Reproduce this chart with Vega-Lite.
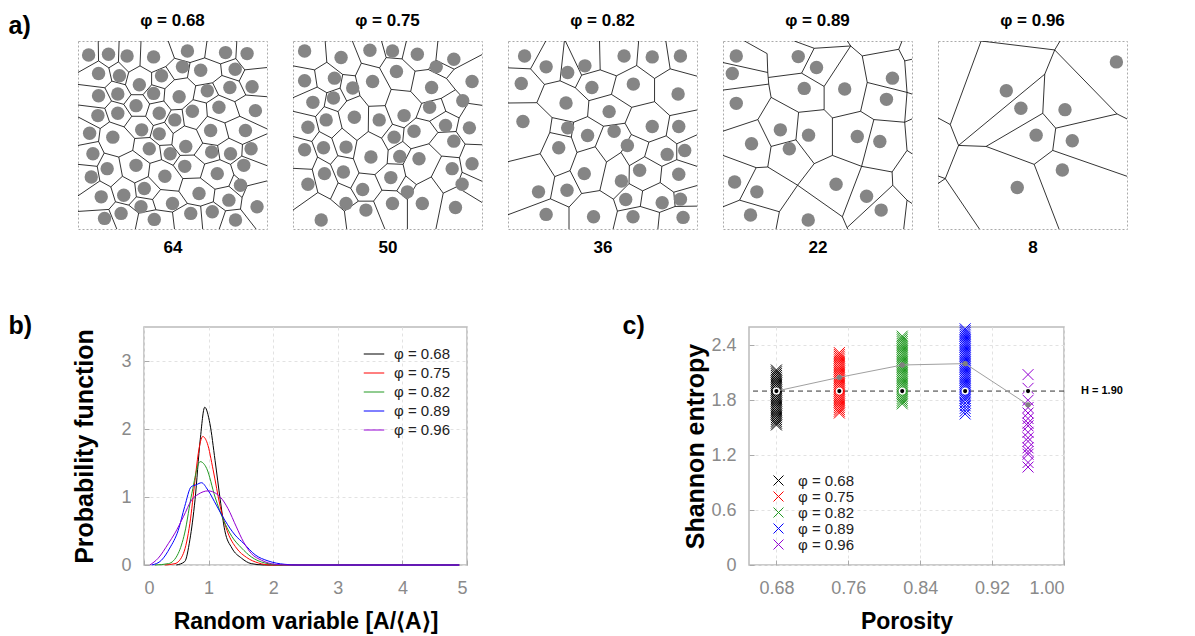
{
 "$schema": "https://vega.github.io/schema/vega-lite/v6.json",
 "padding": {"left": 8, "top": 11, "right": 5, "bottom": 0},
 "background": "white",
 "config": {
  "font": "Liberation Sans",
  "view": {"stroke": null},
  "title": {"font": "Liberation Sans", "color": "black"},
  "axis": {"labelFont": "Liberation Sans", "titleFont": "Liberation Sans"},
  "legend": {"labelFont": "Liberation Sans"}
 },
 "datasets": {
  "pts": [
   {"p":"0.68","x":32,"y":42},{"p":"0.68","x":92,"y":40},{"p":"0.68","x":148,"y":45},{"p":"0.68","x":228,"y":48},{"p":"0.68","x":330,"y":30},{"p":"0.68","x":445,"y":35},{"p":"0.68","x":510,"y":38},
   {"p":"0.68","x":62,"y":98},{"p":"0.68","x":125,"y":105},{"p":"0.68","x":252,"y":105},{"p":"0.68","x":315,"y":78},{"p":"0.68","x":370,"y":88},{"p":"0.68","x":474,"y":85},
   {"p":"0.68","x":185,"y":132},{"p":"0.68","x":62,"y":165},{"p":"0.68","x":120,"y":160},{"p":"0.68","x":228,"y":158},{"p":"0.68","x":305,"y":168},{"p":"0.68","x":390,"y":150},{"p":"0.68","x":458,"y":140},{"p":"0.68","x":525,"y":138},
   {"p":"0.68","x":175,"y":195},{"p":"0.68","x":60,"y":225},{"p":"0.68","x":120,"y":218},{"p":"0.68","x":245,"y":218},{"p":"0.68","x":292,"y":238},{"p":"0.68","x":345,"y":212},{"p":"0.68","x":425,"y":200},{"p":"0.68","x":535,"y":210},
   {"p":"0.68","x":35,"y":278},{"p":"0.68","x":105,"y":290},{"p":"0.68","x":192,"y":268},{"p":"0.68","x":245,"y":280},{"p":"0.68","x":400,"y":270},{"p":"0.68","x":505,"y":270},
   {"p":"0.68","x":45,"y":340},{"p":"0.68","x":215,"y":325},{"p":"0.68","x":278,"y":340},{"p":"0.68","x":325,"y":318},{"p":"0.68","x":403,"y":335},{"p":"0.68","x":460,"y":340},{"p":"0.68","x":522,"y":325},
   {"p":"0.68","x":88,"y":385},{"p":"0.68","x":175,"y":375},{"p":"0.68","x":322,"y":378},{"p":"0.68","x":420,"y":400},{"p":"0.68","x":500,"y":375},
   {"p":"0.68","x":40,"y":410},{"p":"0.68","x":262,"y":408},{"p":"0.68","x":200,"y":445},{"p":"0.68","x":365,"y":460},{"p":"0.68","x":490,"y":435},
   {"p":"0.68","x":70,"y":470},{"p":"0.68","x":138,"y":465},{"p":"0.68","x":285,"y":490},{"p":"0.68","x":455,"y":480},{"p":"0.68","x":540,"y":500},
   {"p":"0.68","x":80,"y":535},{"p":"0.68","x":130,"y":520},{"p":"0.68","x":190,"y":500},{"p":"0.68","x":230,"y":538},{"p":"0.68","x":340,"y":520},{"p":"0.68","x":405,"y":515},{"p":"0.68","x":475,"y":540},
   {"p":"0.75","x":35,"y":30},{"p":"0.75","x":145,"y":50},{"p":"0.75","x":232,"y":28},{"p":"0.75","x":300,"y":30},{"p":"0.75","x":375,"y":40},{"p":"0.75","x":485,"y":55},
   {"p":"0.75","x":312,"y":92},{"p":"0.75","x":432,"y":78},{"p":"0.75","x":35,"y":120},{"p":"0.75","x":125,"y":112},{"p":"0.75","x":180,"y":142},{"p":"0.75","x":240,"y":122},{"p":"0.75","x":418,"y":140},{"p":"0.75","x":540,"y":122},
   {"p":"0.75","x":60,"y":185},{"p":"0.75","x":122,"y":172},{"p":"0.75","x":412,"y":200},{"p":"0.75","x":512,"y":180},{"p":"0.75","x":100,"y":238},{"p":"0.75","x":45,"y":260},{"p":"0.75","x":185,"y":230},{"p":"0.75","x":260,"y":238},{"p":"0.75","x":335,"y":225},{"p":"0.75","x":460,"y":255},{"p":"0.75","x":532,"y":262},
   {"p":"0.75","x":365,"y":272},{"p":"0.75","x":305,"y":290},{"p":"0.75","x":485,"y":302},{"p":"0.75","x":35,"y":328},{"p":"0.75","x":92,"y":322},{"p":"0.75","x":160,"y":320},{"p":"0.75","x":235,"y":350},{"p":"0.75","x":322,"y":348},{"p":"0.75","x":380,"y":355},{"p":"0.75","x":540,"y":370},
   {"p":"0.75","x":95,"y":400},{"p":"0.75","x":152,"y":395},{"p":"0.75","x":45,"y":432},{"p":"0.75","x":295,"y":412},{"p":"0.75","x":480,"y":385},{"p":"0.75","x":510,"y":432},{"p":"0.75","x":210,"y":448},{"p":"0.75","x":345,"y":455},
   {"p":"0.75","x":160,"y":490},{"p":"0.75","x":220,"y":510},{"p":"0.75","x":300,"y":490},{"p":"0.75","x":390,"y":490},{"p":"0.75","x":490,"y":502},{"p":"0.75","x":85,"y":540},
   {"p":"0.82","x":50,"y":45},{"p":"0.82","x":115,"y":78},{"p":"0.82","x":180,"y":95},{"p":"0.82","x":232,"y":75},{"p":"0.82","x":350,"y":45},{"p":"0.82","x":435,"y":48},{"p":"0.82","x":520,"y":45},
   {"p":"0.82","x":40,"y":128},{"p":"0.82","x":253,"y":140},{"p":"0.82","x":378,"y":130},{"p":"0.82","x":513,"y":160},{"p":"0.82","x":175,"y":187},{"p":"0.82","x":305,"y":213},{"p":"0.82","x":45,"y":243},
   {"p":"0.82","x":180,"y":262},{"p":"0.82","x":240,"y":285},{"p":"0.82","x":320,"y":272},{"p":"0.82","x":435,"y":258},{"p":"0.82","x":515,"y":258},{"p":"0.82","x":153,"y":322},{"p":"0.82","x":360,"y":315},
   {"p":"0.82","x":480,"y":342},{"p":"0.82","x":533,"y":330},{"p":"0.82","x":397,"y":390},{"p":"0.82","x":230,"y":400},{"p":"0.82","x":515,"y":402},{"p":"0.82","x":342,"y":422},{"p":"0.82","x":92,"y":455},
   {"p":"0.82","x":178,"y":450},{"p":"0.82","x":355,"y":478},{"p":"0.82","x":465,"y":488},{"p":"0.82","x":520,"y":477},{"p":"0.82","x":115,"y":523},{"p":"0.82","x":258,"y":530},{"p":"0.82","x":377,"y":530},{"p":"0.82","x":528,"y":532},
   {"p":"0.89","x":40,"y":45},{"p":"0.89","x":28,"y":98},{"p":"0.89","x":227,"y":47},{"p":"0.89","x":282,"y":80},{"p":"0.89","x":245,"y":143},{"p":"0.89","x":367,"y":145},{"p":"0.89","x":511,"y":112},{"p":"0.89","x":493,"y":176},
   {"p":"0.89","x":40,"y":188},{"p":"0.89","x":173,"y":268},{"p":"0.89","x":258,"y":284},{"p":"0.89","x":200,"y":325},{"p":"0.89","x":86,"y":310},{"p":"0.89","x":405,"y":288},{"p":"0.89","x":473,"y":303},
   {"p":"0.89","x":35,"y":425},{"p":"0.89","x":102,"y":455},{"p":"0.89","x":341,"y":432},{"p":"0.89","x":433,"y":468},{"p":"0.89","x":477,"y":510},{"p":"0.89","x":83,"y":525},{"p":"0.89","x":257,"y":540},
   {"p":"0.96","x":538,"y":63},{"p":"0.96","x":206,"y":150},{"p":"0.96","x":250,"y":203},{"p":"0.96","x":383,"y":207},{"p":"0.96","x":296,"y":284},{"p":"0.96","x":405,"y":301},{"p":"0.96","x":375,"y":389},{"p":"0.96","x":239,"y":442}
  ],
  "edges": [
   {"p":"0.68","x":62,"y":60,"x2":93,"y2":81},{"p":"0.68","x":122,"y":63,"x2":93,"y2":81},{"p":"0.68","x":122,"y":63,"x2":153,"y2":94},{"p":"0.68","x":93,"y":81,"x2":102,"y2":121},{"p":"0.68","x":153,"y":94,"x2":187,"y2":75},
   {"p":"0.68","x":153,"y":94,"x2":143,"y2":132},{"p":"0.68","x":187,"y":75,"x2":222,"y2":95},{"p":"0.68","x":222,"y":95,"x2":265,"y2":77},{"p":"0.68","x":222,"y":95,"x2":222,"y2":132},{"p":"0.68","x":291,"y":52,"x2":265,"y2":77},
   {"p":"0.68","x":291,"y":52,"x2":338,"y2":65},{"p":"0.68","x":265,"y":77,"x2":291,"y2":117},{"p":"0.68","x":382,"y":51,"x2":338,"y2":65},{"p":"0.68","x":382,"y":51,"x2":430,"y2":69},{"p":"0.68","x":338,"y":65,"x2":330,"y2":111},
   {"p":"0.68","x":476,"y":53,"x2":430,"y2":69},{"p":"0.68","x":476,"y":53,"x2":503,"y2":87},{"p":"0.68","x":430,"y":69,"x2":434,"y2":104},{"p":"0.68","x":503,"y":87,"x2":486,"y2":121},{"p":"0.68","x":102,"y":121,"x2":143,"y2":132},
   {"p":"0.68","x":102,"y":121,"x2":81,"y2":141},{"p":"0.68","x":81,"y":141,"x2":101,"y2":181},{"p":"0.68","x":143,"y":132,"x2":160,"y2":162},{"p":"0.68","x":196,"y":162,"x2":222,"y2":132},{"p":"0.68","x":196,"y":162,"x2":160,"y2":162},
   {"p":"0.68","x":196,"y":162,"x2":216,"y2":190},{"p":"0.68","x":160,"y":162,"x2":138,"y2":191},{"p":"0.68","x":222,"y":132,"x2":262,"y2":144},{"p":"0.68","x":291,"y":117,"x2":262,"y2":144},{"p":"0.68","x":291,"y":117,"x2":330,"y2":111},
   {"p":"0.68","x":262,"y":144,"x2":259,"y2":181},{"p":"0.68","x":330,"y":111,"x2":355,"y2":135},{"p":"0.68","x":355,"y":135,"x2":406,"y2":126},{"p":"0.68","x":355,"y":135,"x2":347,"y2":177},{"p":"0.68","x":434,"y":104,"x2":406,"y2":126},
   {"p":"0.68","x":434,"y":104,"x2":486,"y2":121},{"p":"0.68","x":406,"y":126,"x2":424,"y2":163},{"p":"0.68","x":486,"y":121,"x2":506,"y2":163},{"p":"0.68","x":101,"y":181,"x2":138,"y2":191},{"p":"0.68","x":101,"y":181,"x2":81,"y2":203},
   {"p":"0.68","x":81,"y":203,"x2":95,"y2":244},{"p":"0.68","x":138,"y":191,"x2":162,"y2":227},{"p":"0.68","x":216,"y":190,"x2":259,"y2":181},{"p":"0.68","x":216,"y":190,"x2":204,"y2":227},{"p":"0.68","x":259,"y":181,"x2":281,"y2":208},
   {"p":"0.68","x":281,"y":208,"x2":314,"y2":206},{"p":"0.68","x":281,"y":208,"x2":261,"y2":245},{"p":"0.68","x":314,"y":206,"x2":347,"y2":177},{"p":"0.68","x":314,"y":206,"x2":321,"y2":256},{"p":"0.68","x":347,"y":177,"x2":387,"y2":187},
   {"p":"0.68","x":387,"y":187,"x2":424,"y2":163},{"p":"0.68","x":387,"y":187,"x2":390,"y2":227},{"p":"0.68","x":424,"y":163,"x2":473,"y2":183},{"p":"0.68","x":506,"y":163,"x2":473,"y2":183},{"p":"0.68","x":473,"y":183,"x2":488,"y2":227},
   {"p":"0.68","x":95,"y":244,"x2":139,"y2":259},{"p":"0.68","x":95,"y":244,"x2":67,"y2":264},{"p":"0.68","x":67,"y":264,"x2":62,"y2":303},{"p":"0.68","x":162,"y":227,"x2":204,"y2":227},{"p":"0.68","x":162,"y":227,"x2":139,"y2":259},
   {"p":"0.68","x":139,"y":259,"x2":171,"y2":294},{"p":"0.68","x":204,"y":227,"x2":227,"y2":255},{"p":"0.68","x":227,"y":255,"x2":261,"y2":245},{"p":"0.68","x":227,"y":255,"x2":217,"y2":291},{"p":"0.68","x":261,"y":245,"x2":287,"y2":279},
   {"p":"0.68","x":321,"y":256,"x2":357,"y2":267},{"p":"0.68","x":321,"y":256,"x2":287,"y2":279},{"p":"0.68","x":357,"y":267,"x2":390,"y2":227},{"p":"0.68","x":357,"y":267,"x2":376,"y2":308},{"p":"0.68","x":287,"y":279,"x2":283,"y2":313},
   {"p":"0.68","x":283,"y":313,"x2":246,"y2":315},{"p":"0.68","x":283,"y":313,"x2":308,"y2":345},{"p":"0.68","x":390,"y":227,"x2":443,"y2":247},{"p":"0.68","x":488,"y":227,"x2":443,"y2":247},{"p":"0.68","x":443,"y":247,"x2":455,"y2":293},
   {"p":"0.68","x":62,"y":303,"x2":79,"y2":338},{"p":"0.68","x":171,"y":294,"x2":165,"y2":330},{"p":"0.68","x":171,"y":294,"x2":217,"y2":291},{"p":"0.68","x":165,"y":330,"x2":217,"y2":369},{"p":"0.68","x":165,"y":330,"x2":123,"y2":350},
   {"p":"0.68","x":123,"y":350,"x2":134,"y2":408},{"p":"0.68","x":123,"y":350,"x2":79,"y2":338},{"p":"0.68","x":79,"y":338,"x2":58,"y2":378},{"p":"0.68","x":217,"y":291,"x2":246,"y2":315},{"p":"0.68","x":246,"y":315,"x2":252,"y2":358},
   {"p":"0.68","x":376,"y":308,"x2":421,"y2":315},{"p":"0.68","x":376,"y":308,"x2":350,"y2":344},{"p":"0.68","x":350,"y":344,"x2":382,"y2":371},{"p":"0.68","x":350,"y":344,"x2":308,"y2":345},{"p":"0.68","x":308,"y":345,"x2":287,"y2":375},
   {"p":"0.68","x":455,"y":293,"x2":496,"y2":312},{"p":"0.68","x":455,"y":293,"x2":421,"y2":315},{"p":"0.68","x":421,"y":315,"x2":428,"y2":358},{"p":"0.68","x":496,"y":312,"x2":494,"y2":347},{"p":"0.68","x":58,"y":378,"x2":66,"y2":422},
   {"p":"0.68","x":252,"y":358,"x2":287,"y2":375},{"p":"0.68","x":252,"y":358,"x2":217,"y2":369},{"p":"0.68","x":217,"y":369,"x2":212,"y2":409},{"p":"0.68","x":287,"y":375,"x2":316,"y2":415},{"p":"0.68","x":428,"y":358,"x2":460,"y2":372},
   {"p":"0.68","x":428,"y":358,"x2":382,"y2":371},{"p":"0.68","x":382,"y":371,"x2":369,"y2":413},{"p":"0.68","x":494,"y":347,"x2":460,"y2":372},{"p":"0.68","x":460,"y":372,"x2":470,"y2":403},{"p":"0.68","x":134,"y":408,"x2":171,"y2":428},
   {"p":"0.68","x":134,"y":408,"x2":99,"y2":440},{"p":"0.68","x":171,"y":428,"x2":212,"y2":409},{"p":"0.68","x":171,"y":428,"x2":176,"y2":470},{"p":"0.68","x":99,"y":440,"x2":113,"y2":485},{"p":"0.68","x":99,"y":440,"x2":66,"y2":422},
   {"p":"0.68","x":212,"y":409,"x2":249,"y2":448},{"p":"0.68","x":369,"y":413,"x2":413,"y2":447},{"p":"0.68","x":369,"y":413,"x2":316,"y2":415},{"p":"0.68","x":316,"y":415,"x2":304,"y2":453},{"p":"0.68","x":304,"y":453,"x2":330,"y2":490},
   {"p":"0.68","x":304,"y":453,"x2":249,"y2":448},{"p":"0.68","x":249,"y":448,"x2":225,"y2":478},{"p":"0.68","x":225,"y":478,"x2":235,"y2":509},{"p":"0.68","x":225,"y":478,"x2":176,"y2":470},{"p":"0.68","x":235,"y":509,"x2":285,"y2":516},
   {"p":"0.68","x":235,"y":509,"x2":183,"y2":519},{"p":"0.68","x":470,"y":403,"x2":510,"y2":437},{"p":"0.68","x":470,"y":403,"x2":455,"y2":438},{"p":"0.68","x":455,"y":438,"x2":495,"y2":472},{"p":"0.68","x":455,"y":438,"x2":413,"y2":447},
   {"p":"0.68","x":413,"y":447,"x2":408,"y2":485},{"p":"0.68","x":495,"y":472,"x2":510,"y2":437},{"p":"0.68","x":495,"y":472,"x2":490,"y2":507},{"p":"0.68","x":490,"y":507,"x2":445,"y2":512},{"p":"0.68","x":408,"y":485,"x2":445,"y2":512},
   {"p":"0.68","x":408,"y":485,"x2":370,"y2":498},{"p":"0.68","x":370,"y":498,"x2":330,"y2":490},{"p":"0.68","x":330,"y":490,"x2":285,"y2":516},{"p":"0.68","x":113,"y":485,"x2":153,"y2":495},{"p":"0.68","x":113,"y":485,"x2":93,"y2":508},
   {"p":"0.68","x":176,"y":470,"x2":153,"y2":495},{"p":"0.68","x":153,"y":495,"x2":183,"y2":519},
   {"p":"0.68","x":62,"y":60,"x2":61,"y2":0},{"p":"0.68","x":122,"y":63,"x2":124,"y2":0},{"p":"0.68","x":187,"y":75,"x2":190,"y2":0},{"p":"0.68","x":291,"y":52,"x2":272,"y2":0},{"p":"0.68","x":382,"y":51,"x2":389,"y2":0},
   {"p":"0.68","x":476,"y":53,"x2":479,"y2":0},{"p":"0.68","x":503,"y":87,"x2":570,"y2":80},{"p":"0.68","x":506,"y":163,"x2":570,"y2":168},{"p":"0.68","x":488,"y":227,"x2":570,"y2":265},{"p":"0.68","x":496,"y":312,"x2":570,"y2":280},
   {"p":"0.68","x":494,"y":347,"x2":570,"y2":376},{"p":"0.68","x":510,"y":437,"x2":570,"y2":422},{"p":"0.68","x":490,"y":507,"x2":537,"y2":567},{"p":"0.68","x":445,"y":512,"x2":426,"y2":567},{"p":"0.68","x":370,"y":498,"x2":376,"y2":567},
   {"p":"0.68","x":285,"y":516,"x2":291,"y2":567},{"p":"0.68","x":183,"y":519,"x2":173,"y2":567},{"p":"0.68","x":93,"y":508,"x2":117,"y2":567},{"p":"0.68","x":93,"y":508,"x2":0,"y2":514},{"p":"0.68","x":66,"y":422,"x2":0,"y2":467},
   {"p":"0.68","x":58,"y":378,"x2":0,"y2":372},{"p":"0.68","x":62,"y":303,"x2":0,"y2":315},{"p":"0.68","x":67,"y":264,"x2":0,"y2":229},{"p":"0.68","x":81,"y":203,"x2":0,"y2":193},{"p":"0.68","x":81,"y":141,"x2":0,"y2":131},
   {"p":"0.68","x":62,"y":60,"x2":0,"y2":95},
   {"p":"0.75","x":102,"y":64,"x2":65,"y2":87},{"p":"0.75","x":102,"y":64,"x2":150,"y2":101},{"p":"0.75","x":188,"y":105,"x2":150,"y2":101},{"p":"0.75","x":206,"y":67,"x2":188,"y2":105},{"p":"0.75","x":206,"y":67,"x2":261,"y2":81},
   {"p":"0.75","x":281,"y":50,"x2":261,"y2":81},{"p":"0.75","x":281,"y":50,"x2":329,"y2":54},{"p":"0.75","x":329,"y":54,"x2":368,"y2":91},{"p":"0.75","x":408,"y":86,"x2":368,"y2":91},{"p":"0.75","x":408,"y":86,"x2":431,"y2":58},
   {"p":"0.75","x":431,"y":58,"x2":486,"y2":85},{"p":"0.75","x":486,"y":85,"x2":463,"y2":113},{"p":"0.75","x":408,"y":86,"x2":463,"y2":113},{"p":"0.75","x":463,"y":113,"x2":490,"y2":147},{"p":"0.75","x":368,"y":91,"x2":355,"y2":152},
   {"p":"0.75","x":296,"y":146,"x2":355,"y2":152},{"p":"0.75","x":261,"y":81,"x2":296,"y2":146},{"p":"0.75","x":296,"y":146,"x2":278,"y2":195},{"p":"0.75","x":278,"y":195,"x2":228,"y2":197},{"p":"0.75","x":202,"y":165,"x2":228,"y2":197},
   {"p":"0.75","x":188,"y":105,"x2":202,"y2":165},{"p":"0.75","x":355,"y":152,"x2":388,"y2":188},{"p":"0.75","x":388,"y":188,"x2":447,"y2":173},{"p":"0.75","x":490,"y":147,"x2":447,"y2":173},{"p":"0.75","x":490,"y":147,"x2":528,"y2":188},
   {"p":"0.75","x":150,"y":101,"x2":142,"y2":142},{"p":"0.75","x":142,"y":142,"x2":102,"y2":156},{"p":"0.75","x":65,"y":87,"x2":73,"y2":139},{"p":"0.75","x":73,"y":139,"x2":102,"y2":156},{"p":"0.75","x":142,"y":142,"x2":162,"y2":181},
   {"p":"0.75","x":202,"y":165,"x2":162,"y2":181},{"p":"0.75","x":162,"y":181,"x2":136,"y2":213},{"p":"0.75","x":136,"y":213,"x2":94,"y2":198},{"p":"0.75","x":102,"y":156,"x2":94,"y2":198},{"p":"0.75","x":94,"y":198,"x2":68,"y2":228},
   {"p":"0.75","x":68,"y":228,"x2":79,"y2":273},{"p":"0.75","x":79,"y":273,"x2":57,"y2":303},{"p":"0.75","x":79,"y":273,"x2":117,"y2":293},{"p":"0.75","x":136,"y":213,"x2":148,"y2":263},{"p":"0.75","x":148,"y":263,"x2":117,"y2":293},
   {"p":"0.75","x":148,"y":263,"x2":193,"y2":300},{"p":"0.75","x":227,"y":273,"x2":193,"y2":300},{"p":"0.75","x":228,"y":197,"x2":227,"y2":273},{"p":"0.75","x":227,"y":273,"x2":267,"y2":293},{"p":"0.75","x":278,"y":195,"x2":300,"y2":251},
   {"p":"0.75","x":300,"y":251,"x2":267,"y2":293},{"p":"0.75","x":300,"y":251,"x2":335,"y2":262},{"p":"0.75","x":335,"y":262,"x2":371,"y2":232},{"p":"0.75","x":388,"y":188,"x2":371,"y2":232},{"p":"0.75","x":371,"y":232,"x2":412,"y2":242},
   {"p":"0.75","x":412,"y":242,"x2":461,"y2":212},{"p":"0.75","x":447,"y":173,"x2":461,"y2":212},{"p":"0.75","x":461,"y":212,"x2":501,"y2":232},{"p":"0.75","x":501,"y":232,"x2":528,"y2":188},{"p":"0.75","x":501,"y":232,"x2":492,"y2":273},
   {"p":"0.75","x":492,"y":273,"x2":437,"y2":276},{"p":"0.75","x":412,"y":242,"x2":437,"y2":276},{"p":"0.75","x":437,"y":276,"x2":410,"y2":310},{"p":"0.75","x":410,"y":310,"x2":356,"y2":325},{"p":"0.75","x":331,"y":303,"x2":356,"y2":325},
   {"p":"0.75","x":335,"y":262,"x2":331,"y2":303},{"p":"0.75","x":331,"y":303,"x2":287,"y2":329},{"p":"0.75","x":267,"y":293,"x2":287,"y2":329},{"p":"0.75","x":287,"y":329,"x2":284,"y2":370},{"p":"0.75","x":356,"y":325,"x2":332,"y2":372},
   {"p":"0.75","x":284,"y":370,"x2":332,"y2":372},{"p":"0.75","x":332,"y":372,"x2":340,"y2":407},{"p":"0.75","x":340,"y":407,"x2":372,"y2":433},{"p":"0.75","x":417,"y":410,"x2":372,"y2":433},{"p":"0.75","x":448,"y":347,"x2":417,"y2":410},
   {"p":"0.75","x":410,"y":310,"x2":448,"y2":347},{"p":"0.75","x":448,"y":347,"x2":502,"y2":352},{"p":"0.75","x":519,"y":311,"x2":502,"y2":352},{"p":"0.75","x":492,"y":273,"x2":519,"y2":311},{"p":"0.75","x":502,"y":352,"x2":510,"y2":396},
   {"p":"0.75","x":510,"y":396,"x2":493,"y2":440},{"p":"0.75","x":493,"y":440,"x2":453,"y2":459},{"p":"0.75","x":417,"y":410,"x2":453,"y2":459},{"p":"0.75","x":284,"y":370,"x2":247,"y2":403},{"p":"0.75","x":199,"y":398,"x2":247,"y2":403},
   {"p":"0.75","x":182,"y":355,"x2":199,"y2":398},{"p":"0.75","x":193,"y":300,"x2":182,"y2":355},{"p":"0.75","x":182,"y":355,"x2":135,"y2":346},{"p":"0.75","x":117,"y":293,"x2":135,"y2":346},{"p":"0.75","x":135,"y":346,"x2":113,"y2":372},
   {"p":"0.75","x":113,"y":372,"x2":74,"y2":350},{"p":"0.75","x":57,"y":303,"x2":74,"y2":350},{"p":"0.75","x":74,"y":350,"x2":58,"y2":387},{"p":"0.75","x":113,"y":372,"x2":136,"y2":428},{"p":"0.75","x":136,"y":428,"x2":174,"y2":444},
   {"p":"0.75","x":199,"y":398,"x2":174,"y2":444},{"p":"0.75","x":247,"y":403,"x2":268,"y2":450},{"p":"0.75","x":268,"y":450,"x2":243,"y2":483},{"p":"0.75","x":243,"y":483,"x2":197,"y2":483},{"p":"0.75","x":174,"y":444,"x2":197,"y2":483},
   {"p":"0.75","x":268,"y":450,"x2":313,"y2":452},{"p":"0.75","x":340,"y":407,"x2":313,"y2":452},{"p":"0.75","x":313,"y":452,"x2":345,"y2":478},{"p":"0.75","x":372,"y":433,"x2":345,"y2":478},{"p":"0.75","x":136,"y":428,"x2":113,"y2":477},
   {"p":"0.75","x":113,"y":477,"x2":75,"y2":457},{"p":"0.75","x":58,"y":387,"x2":75,"y2":457},{"p":"0.75","x":197,"y":483,"x2":155,"y2":513},{"p":"0.75","x":113,"y":477,"x2":155,"y2":513},
   {"p":"0.75","x":102,"y":64,"x2":97,"y2":0},{"p":"0.75","x":206,"y":67,"x2":179,"y2":0},{"p":"0.75","x":281,"y":50,"x2":267,"y2":0},{"p":"0.75","x":329,"y":54,"x2":342,"y2":0},{"p":"0.75","x":431,"y":58,"x2":437,"y2":0},
   {"p":"0.75","x":486,"y":85,"x2":570,"y2":41},{"p":"0.75","x":528,"y":188,"x2":570,"y2":194},{"p":"0.75","x":519,"y":311,"x2":570,"y2":313},{"p":"0.75","x":510,"y":396,"x2":570,"y2":423},{"p":"0.75","x":493,"y":440,"x2":570,"y2":487},
   {"p":"0.75","x":453,"y":459,"x2":431,"y2":567},{"p":"0.75","x":345,"y":478,"x2":345,"y2":567},{"p":"0.75","x":243,"y":483,"x2":277,"y2":567},{"p":"0.75","x":155,"y":513,"x2":162,"y2":567},{"p":"0.75","x":75,"y":457,"x2":0,"y2":510},
   {"p":"0.75","x":58,"y":387,"x2":0,"y2":384},{"p":"0.75","x":57,"y":303,"x2":0,"y2":288},{"p":"0.75","x":68,"y":228,"x2":0,"y2":212},{"p":"0.75","x":73,"y":139,"x2":0,"y2":171},{"p":"0.75","x":65,"y":87,"x2":0,"y2":75},
   {"p":"0.82","x":68,"y":84,"x2":110,"y2":131},{"p":"0.82","x":157,"y":120,"x2":110,"y2":131},{"p":"0.82","x":157,"y":120,"x2":203,"y2":141},{"p":"0.82","x":222,"y":103,"x2":203,"y2":141},{"p":"0.82","x":222,"y":103,"x2":278,"y2":87},
   {"p":"0.82","x":278,"y":87,"x2":327,"y2":105},{"p":"0.82","x":327,"y":105,"x2":388,"y2":74},{"p":"0.82","x":327,"y":105,"x2":312,"y2":161},{"p":"0.82","x":312,"y":161,"x2":244,"y2":180},{"p":"0.82","x":312,"y":161,"x2":373,"y2":200},
   {"p":"0.82","x":388,"y":74,"x2":442,"y2":113},{"p":"0.82","x":489,"y":84,"x2":442,"y2":113},{"p":"0.82","x":442,"y":113,"x2":442,"y2":183},{"p":"0.82","x":442,"y":183,"x2":373,"y2":200},{"p":"0.82","x":442,"y":183,"x2":488,"y2":225},
   {"p":"0.82","x":203,"y":141,"x2":244,"y2":180},{"p":"0.82","x":110,"y":131,"x2":87,"y2":186},{"p":"0.82","x":244,"y":180,"x2":240,"y2":228},{"p":"0.82","x":240,"y":228,"x2":198,"y2":245},{"p":"0.82","x":198,"y":245,"x2":133,"y2":231},
   {"p":"0.82","x":87,"y":186,"x2":133,"y2":231},{"p":"0.82","x":240,"y":228,"x2":288,"y2":257},{"p":"0.82","x":288,"y":257,"x2":353,"y2":248},{"p":"0.82","x":373,"y":200,"x2":353,"y2":248},{"p":"0.82","x":353,"y":248,"x2":372,"y2":282},
   {"p":"0.82","x":372,"y":282,"x2":425,"y2":305},{"p":"0.82","x":372,"y":282,"x2":341,"y2":336},{"p":"0.82","x":288,"y":257,"x2":263,"y2":319},{"p":"0.82","x":488,"y":225,"x2":477,"y2":286},{"p":"0.82","x":477,"y":286,"x2":425,"y2":305},
   {"p":"0.82","x":477,"y":286,"x2":509,"y2":310},{"p":"0.82","x":509,"y":310,"x2":509,"y2":358},{"p":"0.82","x":425,"y":305,"x2":412,"y2":349},{"p":"0.82","x":412,"y":349,"x2":464,"y2":378},{"p":"0.82","x":412,"y":349,"x2":366,"y2":376},
   {"p":"0.82","x":509,"y":358,"x2":464,"y2":378},{"p":"0.82","x":464,"y":378,"x2":459,"y2":427},{"p":"0.82","x":459,"y":427,"x2":500,"y2":456},{"p":"0.82","x":500,"y":456,"x2":504,"y2":499},{"p":"0.82","x":504,"y":499,"x2":457,"y2":517},
   {"p":"0.82","x":457,"y":517,"x2":399,"y2":499},{"p":"0.82","x":459,"y":427,"x2":406,"y2":452},{"p":"0.82","x":406,"y":452,"x2":399,"y2":499},{"p":"0.82","x":406,"y":452,"x2":365,"y2":430},{"p":"0.82","x":399,"y":499,"x2":330,"y2":513},
   {"p":"0.82","x":365,"y":430,"x2":366,"y2":376},{"p":"0.82","x":365,"y":430,"x2":318,"y2":477},{"p":"0.82","x":318,"y":477,"x2":330,"y2":513},{"p":"0.82","x":318,"y":477,"x2":277,"y2":451},{"p":"0.82","x":277,"y":451,"x2":297,"y2":365},
   {"p":"0.82","x":277,"y":451,"x2":222,"y2":460},{"p":"0.82","x":222,"y":460,"x2":184,"y2":501},{"p":"0.82","x":222,"y":460,"x2":187,"y2":391},{"p":"0.82","x":366,"y":376,"x2":341,"y2":336},{"p":"0.82","x":341,"y":336,"x2":297,"y2":365},
   {"p":"0.82","x":297,"y":365,"x2":263,"y2":319},{"p":"0.82","x":263,"y":319,"x2":208,"y2":336},{"p":"0.82","x":198,"y":245,"x2":191,"y2":290},{"p":"0.82","x":191,"y":290,"x2":208,"y2":336},{"p":"0.82","x":191,"y":290,"x2":126,"y2":276},
   {"p":"0.82","x":208,"y":336,"x2":187,"y2":391},{"p":"0.82","x":187,"y":391,"x2":141,"y2":409},{"p":"0.82","x":141,"y":409,"x2":97,"y2":340},{"p":"0.82","x":141,"y":409,"x2":128,"y2":476},{"p":"0.82","x":133,"y":231,"x2":126,"y2":276},
   {"p":"0.82","x":126,"y":276,"x2":97,"y2":340},{"p":"0.82","x":128,"y":476,"x2":184,"y2":501},
   {"p":"0.82","x":68,"y":84,"x2":114,"y2":0},{"p":"0.82","x":68,"y":84,"x2":0,"y2":81},{"p":"0.82","x":157,"y":120,"x2":170,"y2":0},{"p":"0.82","x":222,"y":103,"x2":173,"y2":0},{"p":"0.82","x":278,"y":87,"x2":276,"y2":0},
   {"p":"0.82","x":388,"y":74,"x2":394,"y2":0},{"p":"0.82","x":489,"y":84,"x2":476,"y2":0},{"p":"0.82","x":489,"y":84,"x2":570,"y2":106},{"p":"0.82","x":488,"y":225,"x2":570,"y2":208},{"p":"0.82","x":509,"y":310,"x2":570,"y2":283},
   {"p":"0.82","x":509,"y":358,"x2":570,"y2":378},{"p":"0.82","x":500,"y":456,"x2":570,"y2":436},{"p":"0.82","x":504,"y":499,"x2":570,"y2":498},{"p":"0.82","x":457,"y":517,"x2":452,"y2":567},{"p":"0.82","x":330,"y":513,"x2":317,"y2":567},
   {"p":"0.82","x":184,"y":501,"x2":184,"y2":567},{"p":"0.82","x":128,"y":476,"x2":0,"y2":524},{"p":"0.82","x":97,"y":340,"x2":0,"y2":364},{"p":"0.82","x":87,"y":186,"x2":0,"y2":187},
   {"p":"0.96","x":130,"y":0,"x2":37,"y2":252},{"p":"0.96","x":0,"y":232,"x2":37,"y2":252},{"p":"0.96","x":37,"y":252,"x2":62,"y2":315},{"p":"0.96","x":130,"y":0,"x2":352,"y2":27},
   {"p":"0.96","x":352,"y":27,"x2":368,"y2":0},{"p":"0.96","x":352,"y":27,"x2":322,"y2":100},{"p":"0.96","x":322,"y":100,"x2":316,"y2":218},{"p":"0.96","x":322,"y":100,"x2":62,"y2":315},
   {"p":"0.96","x":352,"y":27,"x2":540,"y2":220},{"p":"0.96","x":540,"y":220,"x2":570,"y2":235},{"p":"0.96","x":540,"y":220,"x2":355,"y2":263},{"p":"0.96","x":316,"y":218,"x2":355,"y2":263},
   {"p":"0.96","x":316,"y":218,"x2":145,"y2":318},{"p":"0.96","x":355,"y":263,"x2":346,"y2":330},{"p":"0.96","x":346,"y":330,"x2":290,"y2":372},{"p":"0.96","x":346,"y":330,"x2":570,"y2":408},
   {"p":"0.96","x":145,"y":318,"x2":62,"y2":315},{"p":"0.96","x":145,"y":318,"x2":290,"y2":372},{"p":"0.96","x":290,"y":372,"x2":365,"y2":567},{"p":"0.96","x":62,"y":315,"x2":22,"y2":415},
   {"p":"0.96","x":22,"y":415,"x2":0,"y2":407},{"p":"0.96","x":22,"y":415,"x2":0,"y2":430},{"p":"0.96","x":22,"y":415,"x2":125,"y2":567},
   {"p":"0.89","x":65,"y":0,"x2":133,"y2":38},{"p":"0.89","x":133,"y":38,"x2":135,"y2":95},{"p":"0.89","x":0,"y":65,"x2":135,"y2":95},{"p":"0.89","x":135,"y":95,"x2":138,"y2":130},
   {"p":"0.89","x":137,"y":110,"x2":237,"y2":97},{"p":"0.89","x":0,"y":148,"x2":138,"y2":130},{"p":"0.89","x":138,"y":130,"x2":145,"y2":170},{"p":"0.89","x":145,"y":170,"x2":105,"y2":237},
   {"p":"0.89","x":105,"y":237,"x2":0,"y2":272},{"p":"0.89","x":105,"y":237,"x2":145,"y2":318},{"p":"0.89","x":145,"y":170,"x2":228,"y2":215},{"p":"0.89","x":228,"y":215,"x2":305,"y2":207},
   {"p":"0.89","x":228,"y":215,"x2":220,"y2":298},{"p":"0.89","x":145,"y":318,"x2":220,"y2":298},{"p":"0.89","x":220,"y":298,"x2":275,"y2":370},{"p":"0.89","x":145,"y":318,"x2":135,"y2":380},
   {"p":"0.89","x":135,"y":380,"x2":100,"y2":382},{"p":"0.89","x":100,"y":382,"x2":0,"y2":345},{"p":"0.89","x":100,"y":382,"x2":50,"y2":480},{"p":"0.89","x":50,"y":480,"x2":0,"y2":500},
   {"p":"0.89","x":50,"y":480,"x2":170,"y2":515},{"p":"0.89","x":135,"y":380,"x2":225,"y2":435},{"p":"0.89","x":225,"y":435,"x2":275,"y2":370},{"p":"0.89","x":225,"y":435,"x2":170,"y2":515},
   {"p":"0.89","x":170,"y":515,"x2":160,"y2":567},{"p":"0.89","x":275,"y":370,"x2":330,"y2":345},{"p":"0.89","x":330,"y":345,"x2":330,"y2":232},{"p":"0.89","x":330,"y":232,"x2":305,"y2":207},
   {"p":"0.89","x":305,"y":207,"x2":305,"y2":137},{"p":"0.89","x":237,"y":97,"x2":305,"y2":137},{"p":"0.89","x":215,"y":0,"x2":275,"y2":22},{"p":"0.89","x":275,"y":22,"x2":237,"y2":97},
   {"p":"0.89","x":275,"y":22,"x2":385,"y2":15},{"p":"0.89","x":385,"y":15,"x2":375,"y2":0},{"p":"0.89","x":305,"y":137,"x2":385,"y2":15},{"p":"0.89","x":385,"y":15,"x2":420,"y2":45},
   {"p":"0.89","x":420,"y":45,"x2":530,"y2":25},{"p":"0.89","x":530,"y":25,"x2":540,"y2":0},{"p":"0.89","x":530,"y":25,"x2":548,"y2":60},{"p":"0.89","x":548,"y":60,"x2":570,"y2":55},
   {"p":"0.89","x":548,"y":60,"x2":555,"y2":155},{"p":"0.89","x":420,"y":45,"x2":435,"y2":125},{"p":"0.89","x":435,"y":125,"x2":555,"y2":155},{"p":"0.89","x":555,"y":155,"x2":570,"y2":160},
   {"p":"0.89","x":555,"y":155,"x2":548,"y2":245},{"p":"0.89","x":330,"y":232,"x2":415,"y2":212},{"p":"0.89","x":415,"y":212,"x2":435,"y2":125},{"p":"0.89","x":415,"y":212,"x2":455,"y2":237},
   {"p":"0.89","x":455,"y":237,"x2":548,"y2":245},{"p":"0.89","x":548,"y":245,"x2":570,"y2":235},{"p":"0.89","x":455,"y":237,"x2":418,"y2":378},{"p":"0.89","x":330,"y":345,"x2":418,"y2":378},
   {"p":"0.89","x":418,"y":378,"x2":510,"y2":395},{"p":"0.89","x":548,"y":245,"x2":555,"y2":330},{"p":"0.89","x":555,"y":330,"x2":570,"y2":340},{"p":"0.89","x":555,"y":330,"x2":510,"y2":395},
   {"p":"0.89","x":510,"y":395,"x2":512,"y2":435},{"p":"0.89","x":512,"y":435,"x2":555,"y2":480},{"p":"0.89","x":555,"y":480,"x2":570,"y2":490},{"p":"0.89","x":555,"y":480,"x2":545,"y2":567},
   {"p":"0.89","x":512,"y":435,"x2":375,"y2":562},{"p":"0.89","x":418,"y":378,"x2":360,"y2":530},{"p":"0.89","x":360,"y":530,"x2":376,"y2":567},{"p":"0.89","x":225,"y":435,"x2":360,"y2":530}
  ],
  "pdf": [
   {"phi":"0.68","x":0.50,"y":0},{"phi":"0.68","x":0.63,"y":0.05},{"phi":"0.68","x":0.71,"y":0.37},{"phi":"0.68","x":0.79,"y":0.96},{"phi":"0.68","x":0.87,"y":1.84},{"phi":"0.68","x":0.94,"y":2.32},{"phi":"0.68","x":1.02,"y":2.08},{"phi":"0.68","x":1.10,"y":1.54},{"phi":"0.68","x":1.18,"y":0.96},{"phi":"0.68","x":1.25,"y":0.51},{"phi":"0.68","x":1.36,"y":0.25},{"phi":"0.68","x":1.51,"y":0.10},{"phi":"0.68","x":1.66,"y":0.02},{"phi":"0.68","x":1.87,"y":0},{"phi":"0.68","x":4.88,"y":0},
   {"phi":"0.75","x":0.32,"y":0},{"phi":"0.75","x":0.48,"y":0.02},{"phi":"0.75","x":0.61,"y":0.17},{"phi":"0.75","x":0.71,"y":0.61},{"phi":"0.75","x":0.79,"y":1.25},{"phi":"0.75","x":0.84,"y":1.64},{"phi":"0.75","x":0.91,"y":1.89},{"phi":"0.75","x":0.98,"y":1.79},{"phi":"0.75","x":1.07,"y":1.40},{"phi":"0.75","x":1.18,"y":0.86},{"phi":"0.75","x":1.30,"y":0.47},{"phi":"0.75","x":1.43,"y":0.25},{"phi":"0.75","x":1.59,"y":0.11},{"phi":"0.75","x":1.77,"y":0.03},{"phi":"0.75","x":1.97,"y":0},{"phi":"0.75","x":4.88,"y":0},
   {"phi":"0.82","x":0.17,"y":0},{"phi":"0.82","x":0.38,"y":0.02},{"phi":"0.82","x":0.53,"y":0.17},{"phi":"0.82","x":0.63,"y":0.47},{"phi":"0.82","x":0.74,"y":1.05},{"phi":"0.82","x":0.87,"y":1.52},{"phi":"0.82","x":0.97,"y":1.42},{"phi":"0.82","x":1.10,"y":1.00},{"phi":"0.82","x":1.23,"y":0.66},{"phi":"0.82","x":1.36,"y":0.42},{"phi":"0.82","x":1.51,"y":0.25},{"phi":"0.82","x":1.66,"y":0.12},{"phi":"0.82","x":1.87,"y":0.03},{"phi":"0.82","x":2.13,"y":0},{"phi":"0.82","x":4.88,"y":0},
   {"phi":"0.89","x":0.12,"y":0},{"phi":"0.89","x":0.27,"y":0.07},{"phi":"0.89","x":0.40,"y":0.25},{"phi":"0.89","x":0.53,"y":0.51},{"phi":"0.89","x":0.63,"y":0.86},{"phi":"0.89","x":0.73,"y":1.15},{"phi":"0.89","x":0.81,"y":1.18},{"phi":"0.89","x":0.89,"y":1.21},{"phi":"0.89","x":0.99,"y":1.10},{"phi":"0.89","x":1.12,"y":0.88},{"phi":"0.89","x":1.25,"y":0.66},{"phi":"0.89","x":1.41,"y":0.44},{"phi":"0.89","x":1.54,"y":0.32},{"phi":"0.89","x":1.72,"y":0.15},{"phi":"0.89","x":1.92,"y":0.06},{"phi":"0.89","x":2.18,"y":0.01},{"phi":"0.89","x":2.39,"y":0},{"phi":"0.89","x":4.88,"y":0},
   {"phi":"0.96","x":0.09,"y":0},{"phi":"0.96","x":0.22,"y":0.10},{"phi":"0.96","x":0.38,"y":0.32},{"phi":"0.96","x":0.48,"y":0.47},{"phi":"0.96","x":0.61,"y":0.71},{"phi":"0.96","x":0.74,"y":0.96},{"phi":"0.96","x":0.84,"y":1.04},{"phi":"0.96","x":0.99,"y":1.09},{"phi":"0.96","x":1.18,"y":1.00},{"phi":"0.96","x":1.30,"y":0.83},{"phi":"0.96","x":1.43,"y":0.56},{"phi":"0.96","x":1.54,"y":0.34},{"phi":"0.96","x":1.66,"y":0.17},{"phi":"0.96","x":1.82,"y":0.07},{"phi":"0.96","x":2.03,"y":0.01},{"phi":"0.96","x":2.23,"y":0},{"phi":"0.96","x":4.88,"y":0}
  ],
  "ent": [
   {"phi":"0.68","x":0.68,"y":1.53},{"phi":"0.68","x":0.68,"y":1.55},{"phi":"0.68","x":0.68,"y":1.57},{"phi":"0.68","x":0.68,"y":1.59},{"phi":"0.68","x":0.68,"y":1.61},{"phi":"0.68","x":0.68,"y":1.63},{"phi":"0.68","x":0.68,"y":1.65},{"phi":"0.68","x":0.68,"y":1.67},{"phi":"0.68","x":0.68,"y":1.69},{"phi":"0.68","x":0.68,"y":1.71},{"phi":"0.68","x":0.68,"y":1.73},{"phi":"0.68","x":0.68,"y":1.75},{"phi":"0.68","x":0.68,"y":1.77},{"phi":"0.68","x":0.68,"y":1.79},{"phi":"0.68","x":0.68,"y":1.81},{"phi":"0.68","x":0.68,"y":1.83},{"phi":"0.68","x":0.68,"y":1.85},{"phi":"0.68","x":0.68,"y":1.87},{"phi":"0.68","x":0.68,"y":1.89},{"phi":"0.68","x":0.68,"y":1.91},{"phi":"0.68","x":0.68,"y":1.93},{"phi":"0.68","x":0.68,"y":1.95},{"phi":"0.68","x":0.68,"y":1.97},{"phi":"0.68","x":0.68,"y":1.99},{"phi":"0.68","x":0.68,"y":2.01},{"phi":"0.68","x":0.68,"y":2.03},{"phi":"0.68","x":0.68,"y":2.05},{"phi":"0.68","x":0.68,"y":2.07},{"phi":"0.68","x":0.68,"y":2.09},{"phi":"0.68","x":0.68,"y":2.11},{"phi":"0.68","x":0.68,"y":2.13},
   {"phi":"0.75","x":0.75,"y":1.66},{"phi":"0.75","x":0.75,"y":1.68},{"phi":"0.75","x":0.75,"y":1.70},{"phi":"0.75","x":0.75,"y":1.72},{"phi":"0.75","x":0.75,"y":1.74},{"phi":"0.75","x":0.75,"y":1.76},{"phi":"0.75","x":0.75,"y":1.78},{"phi":"0.75","x":0.75,"y":1.80},{"phi":"0.75","x":0.75,"y":1.82},{"phi":"0.75","x":0.75,"y":1.84},{"phi":"0.75","x":0.75,"y":1.86},{"phi":"0.75","x":0.75,"y":1.88},{"phi":"0.75","x":0.75,"y":1.90},{"phi":"0.75","x":0.75,"y":1.92},{"phi":"0.75","x":0.75,"y":1.94},{"phi":"0.75","x":0.75,"y":1.96},{"phi":"0.75","x":0.75,"y":1.98},{"phi":"0.75","x":0.75,"y":2.00},{"phi":"0.75","x":0.75,"y":2.02},{"phi":"0.75","x":0.75,"y":2.04},{"phi":"0.75","x":0.75,"y":2.06},{"phi":"0.75","x":0.75,"y":2.08},{"phi":"0.75","x":0.75,"y":2.10},{"phi":"0.75","x":0.75,"y":2.12},{"phi":"0.75","x":0.75,"y":2.14},{"phi":"0.75","x":0.75,"y":2.16},{"phi":"0.75","x":0.75,"y":2.18},{"phi":"0.75","x":0.75,"y":2.20},{"phi":"0.75","x":0.75,"y":2.22},{"phi":"0.75","x":0.75,"y":2.24},{"phi":"0.75","x":0.75,"y":2.26},{"phi":"0.75","x":0.75,"y":2.28},{"phi":"0.75","x":0.75,"y":2.30},{"phi":"0.75","x":0.75,"y":2.32},
   {"phi":"0.82","x":0.82,"y":1.76},{"phi":"0.82","x":0.82,"y":1.78},{"phi":"0.82","x":0.82,"y":1.80},{"phi":"0.82","x":0.82,"y":1.82},{"phi":"0.82","x":0.82,"y":1.84},{"phi":"0.82","x":0.82,"y":1.86},{"phi":"0.82","x":0.82,"y":1.88},{"phi":"0.82","x":0.82,"y":1.90},{"phi":"0.82","x":0.82,"y":1.92},{"phi":"0.82","x":0.82,"y":1.94},{"phi":"0.82","x":0.82,"y":1.96},{"phi":"0.82","x":0.82,"y":1.98},{"phi":"0.82","x":0.82,"y":2.00},{"phi":"0.82","x":0.82,"y":2.02},{"phi":"0.82","x":0.82,"y":2.04},{"phi":"0.82","x":0.82,"y":2.06},{"phi":"0.82","x":0.82,"y":2.08},{"phi":"0.82","x":0.82,"y":2.10},{"phi":"0.82","x":0.82,"y":2.12},{"phi":"0.82","x":0.82,"y":2.14},{"phi":"0.82","x":0.82,"y":2.16},{"phi":"0.82","x":0.82,"y":2.18},{"phi":"0.82","x":0.82,"y":2.20},{"phi":"0.82","x":0.82,"y":2.22},{"phi":"0.82","x":0.82,"y":2.24},{"phi":"0.82","x":0.82,"y":2.26},{"phi":"0.82","x":0.82,"y":2.28},{"phi":"0.82","x":0.82,"y":2.30},{"phi":"0.82","x":0.82,"y":2.32},{"phi":"0.82","x":0.82,"y":2.34},{"phi":"0.82","x":0.82,"y":2.36},{"phi":"0.82","x":0.82,"y":2.38},{"phi":"0.82","x":0.82,"y":2.40},{"phi":"0.82","x":0.82,"y":2.42},{"phi":"0.82","x":0.82,"y":2.44},{"phi":"0.82","x":0.82,"y":2.46},{"phi":"0.82","x":0.82,"y":2.48},{"phi":"0.82","x":0.82,"y":2.50},
   {"phi":"0.89","x":0.89,"y":1.65},{"phi":"0.89","x":0.89,"y":1.68},{"phi":"0.89","x":0.89,"y":1.71},{"phi":"0.89","x":0.89,"y":1.74},{"phi":"0.89","x":0.89,"y":1.77},{"phi":"0.89","x":0.89,"y":1.80},{"phi":"0.89","x":0.89,"y":1.82},{"phi":"0.89","x":0.89,"y":1.84},{"phi":"0.89","x":0.89,"y":1.86},{"phi":"0.89","x":0.89,"y":1.88},{"phi":"0.89","x":0.89,"y":1.90},{"phi":"0.89","x":0.89,"y":1.92},{"phi":"0.89","x":0.89,"y":1.94},{"phi":"0.89","x":0.89,"y":1.96},{"phi":"0.89","x":0.89,"y":1.98},{"phi":"0.89","x":0.89,"y":2.00},{"phi":"0.89","x":0.89,"y":2.02},{"phi":"0.89","x":0.89,"y":2.04},{"phi":"0.89","x":0.89,"y":2.06},{"phi":"0.89","x":0.89,"y":2.08},{"phi":"0.89","x":0.89,"y":2.10},{"phi":"0.89","x":0.89,"y":2.12},{"phi":"0.89","x":0.89,"y":2.14},{"phi":"0.89","x":0.89,"y":2.16},{"phi":"0.89","x":0.89,"y":2.18},{"phi":"0.89","x":0.89,"y":2.20},{"phi":"0.89","x":0.89,"y":2.22},{"phi":"0.89","x":0.89,"y":2.24},{"phi":"0.89","x":0.89,"y":2.26},{"phi":"0.89","x":0.89,"y":2.28},{"phi":"0.89","x":0.89,"y":2.30},{"phi":"0.89","x":0.89,"y":2.32},{"phi":"0.89","x":0.89,"y":2.34},{"phi":"0.89","x":0.89,"y":2.36},{"phi":"0.89","x":0.89,"y":2.38},{"phi":"0.89","x":0.89,"y":2.40},{"phi":"0.89","x":0.89,"y":2.42},{"phi":"0.89","x":0.89,"y":2.44},{"phi":"0.89","x":0.89,"y":2.46},{"phi":"0.89","x":0.89,"y":2.48},{"phi":"0.89","x":0.89,"y":2.50},{"phi":"0.89","x":0.89,"y":2.52},{"phi":"0.89","x":0.89,"y":2.54},{"phi":"0.89","x":0.89,"y":2.56},{"phi":"0.89","x":0.89,"y":2.58},
   {"phi":"0.96","x":0.96,"y":2.08},{"phi":"0.96","x":0.96,"y":1.93},{"phi":"0.96","x":0.96,"y":1.80},{"phi":"0.96","x":0.96,"y":1.72},{"phi":"0.96","x":0.96,"y":1.66},{"phi":"0.96","x":0.96,"y":1.60},{"phi":"0.96","x":0.96,"y":1.55},{"phi":"0.96","x":0.96,"y":1.52},{"phi":"0.96","x":0.96,"y":1.45},{"phi":"0.96","x":0.96,"y":1.39},{"phi":"0.96","x":0.96,"y":1.35},{"phi":"0.96","x":0.96,"y":1.28},{"phi":"0.96","x":0.96,"y":1.24},{"phi":"0.96","x":0.96,"y":1.21},{"phi":"0.96","x":0.96,"y":1.12},{"phi":"0.96","x":0.96,"y":1.07}
  ],
  "means": [{"x":0.68,"y":1.90},{"x":0.75,"y":2.05},{"x":0.82,"y":2.185},{"x":0.89,"y":2.20},{"x":0.96,"y":1.75}],
  "hdots": [{"x":0.68,"y":1.90},{"x":0.75,"y":1.90},{"x":0.82,"y":1.90},{"x":0.89,"y":1.90},{"x":0.96,"y":1.90}],
  "href": [{"y":1.90}],
  "hlab": [{"x":1.0,"y":1.90,"label":"H = 1.90"}],
  "dummy": [{"t":0}]
 },
 "spacing": 57,
 "resolve": {"scale": {"color": "independent", "stroke": "independent"}, "legend": {"color": "independent", "stroke": "independent"}},
 "vconcat": [
  {
   "spacing": 24,
   "hconcat": [
    {
     "width": 45, "height": 188,
     "data": {"name": "dummy"},
     "mark": {"type": "point", "opacity": 0},
     "encoding": {"y": {"field": "t", "type": "quantitative", "axis": {"title": "a)", "labels": false, "ticks": false, "domain": false, "grid": false, "titleAngle": 0, "titleX": 0, "titleY": -16, "titleAlign": "left", "titleBaseline": "middle", "titleFontSize": 25, "titleFontWeight": "bold", "titleColor": "black"}}}
    },
    {
     "width": 189, "height": 188,
     "view": {"stroke": "#aaa", "strokeDash": [2, 2], "strokeWidth": 1},
     "title": {"text": "φ = 0.68", "fontSize": 17, "fontWeight": "bold", "offset": -2, "baseline": "alphabetic"},
     "encoding": {
      "x": {"field": "x", "type": "quantitative", "scale": {"domain": [0, 570], "nice": false, "zero": false}, "axis": {"title": "64", "labels": false, "ticks": false, "domain": false, "grid": false, "titleFontSize": 17, "titleFontWeight": "bold", "titleColor": "black", "titlePadding": 10}},
      "y": {"field": "y", "type": "quantitative", "scale": {"domain": [0, 567], "nice": false, "zero": false, "reverse": true}, "axis": null}
     },
     "layer": [
      {"data": {"name": "edges"}, "transform": [{"filter": "datum.p == '0.68'"}], "mark": {"type": "rule", "color": "black", "strokeWidth": 0.8, "clip": true}, "encoding": {"x2": {"field": "x2"}, "y2": {"field": "y2"}}},
      {"data": {"name": "pts"}, "transform": [{"filter": "datum.p == '0.68'"}], "mark": {"type": "circle", "size": 180, "color": "#858585", "opacity": 1, "clip": true}}
     ]
    },
    {
     "width": 189, "height": 188,
     "view": {"stroke": "#aaa", "strokeDash": [2, 2], "strokeWidth": 1},
     "title": {"text": "φ = 0.75", "fontSize": 17, "fontWeight": "bold", "offset": -2, "baseline": "alphabetic"},
     "encoding": {
      "x": {"field": "x", "type": "quantitative", "scale": {"domain": [0, 570], "nice": false, "zero": false}, "axis": {"title": "50", "labels": false, "ticks": false, "domain": false, "grid": false, "titleFontSize": 17, "titleFontWeight": "bold", "titleColor": "black", "titlePadding": 10}},
      "y": {"field": "y", "type": "quantitative", "scale": {"domain": [0, 567], "nice": false, "zero": false, "reverse": true}, "axis": null}
     },
     "layer": [
      {"data": {"name": "edges"}, "transform": [{"filter": "datum.p == '0.75'"}], "mark": {"type": "rule", "color": "black", "strokeWidth": 0.8, "clip": true}, "encoding": {"x2": {"field": "x2"}, "y2": {"field": "y2"}}},
      {"data": {"name": "pts"}, "transform": [{"filter": "datum.p == '0.75'"}], "mark": {"type": "circle", "size": 180, "color": "#858585", "opacity": 1, "clip": true}}
     ]
    },
    {
     "width": 189, "height": 188,
     "view": {"stroke": "#aaa", "strokeDash": [2, 2], "strokeWidth": 1},
     "title": {"text": "φ = 0.82", "fontSize": 17, "fontWeight": "bold", "offset": -2, "baseline": "alphabetic"},
     "encoding": {
      "x": {"field": "x", "type": "quantitative", "scale": {"domain": [0, 570], "nice": false, "zero": false}, "axis": {"title": "36", "labels": false, "ticks": false, "domain": false, "grid": false, "titleFontSize": 17, "titleFontWeight": "bold", "titleColor": "black", "titlePadding": 10}},
      "y": {"field": "y", "type": "quantitative", "scale": {"domain": [0, 567], "nice": false, "zero": false, "reverse": true}, "axis": null}
     },
     "layer": [
      {"data": {"name": "edges"}, "transform": [{"filter": "datum.p == '0.82'"}], "mark": {"type": "rule", "color": "black", "strokeWidth": 0.8, "clip": true}, "encoding": {"x2": {"field": "x2"}, "y2": {"field": "y2"}}},
      {"data": {"name": "pts"}, "transform": [{"filter": "datum.p == '0.82'"}], "mark": {"type": "circle", "size": 180, "color": "#858585", "opacity": 1, "clip": true}}
     ]
    },
    {
     "width": 189, "height": 188,
     "view": {"stroke": "#aaa", "strokeDash": [2, 2], "strokeWidth": 1},
     "title": {"text": "φ = 0.89", "fontSize": 17, "fontWeight": "bold", "offset": -2, "baseline": "alphabetic"},
     "encoding": {
      "x": {"field": "x", "type": "quantitative", "scale": {"domain": [0, 570], "nice": false, "zero": false}, "axis": {"title": "22", "labels": false, "ticks": false, "domain": false, "grid": false, "titleFontSize": 17, "titleFontWeight": "bold", "titleColor": "black", "titlePadding": 10}},
      "y": {"field": "y", "type": "quantitative", "scale": {"domain": [0, 567], "nice": false, "zero": false, "reverse": true}, "axis": null}
     },
     "layer": [
      {"data": {"name": "edges"}, "transform": [{"filter": "datum.p == '0.89'"}], "mark": {"type": "rule", "color": "black", "strokeWidth": 0.8, "clip": true}, "encoding": {"x2": {"field": "x2"}, "y2": {"field": "y2"}}},
      {"data": {"name": "pts"}, "transform": [{"filter": "datum.p == '0.89'"}], "mark": {"type": "circle", "size": 180, "color": "#858585", "opacity": 1, "clip": true}}
     ]
    },
    {
     "width": 189, "height": 188,
     "view": {"stroke": "#aaa", "strokeDash": [2, 2], "strokeWidth": 1},
     "title": {"text": "φ = 0.96", "fontSize": 17, "fontWeight": "bold", "offset": -2, "baseline": "alphabetic"},
     "encoding": {
      "x": {"field": "x", "type": "quantitative", "scale": {"domain": [0, 570], "nice": false, "zero": false}, "axis": {"title": "8", "labels": false, "ticks": false, "domain": false, "grid": false, "titleFontSize": 17, "titleFontWeight": "bold", "titleColor": "black", "titlePadding": 10}},
      "y": {"field": "y", "type": "quantitative", "scale": {"domain": [0, 567], "nice": false, "zero": false, "reverse": true}, "axis": null}
     },
     "layer": [
      {"data": {"name": "edges"}, "transform": [{"filter": "datum.p == '0.96'"}], "mark": {"type": "rule", "color": "black", "strokeWidth": 0.8, "clip": true}, "encoding": {"x2": {"field": "x2"}, "y2": {"field": "y2"}}},
      {"data": {"name": "pts"}, "transform": [{"filter": "datum.p == '0.96'"}], "mark": {"type": "circle", "size": 180, "color": "#858585", "opacity": 1, "clip": true}}
     ]
    }
   ]
  },
  {
   "spacing": 34,
   "resolve": {"scale": {"color": "independent", "stroke": "independent"}, "legend": {"color": "independent", "stroke": "independent"}},
   "hconcat": [
    {
     "width": 30, "height": 238,
     "data": {"name": "dummy"},
     "mark": {"type": "point", "opacity": 0},
     "encoding": {"y": {"field": "t", "type": "quantitative", "axis": {"title": "b)", "labels": false, "ticks": false, "domain": false, "grid": false, "titleAngle": 0, "titleX": 0, "titleY": -2, "titleAlign": "left", "titleBaseline": "middle", "titleFontSize": 25, "titleFontWeight": "bold", "titleColor": "black"}}}
    },
    {
     "spacing": 153,
     "resolve": {"scale": {"color": "independent", "stroke": "independent"}, "legend": {"color": "independent", "stroke": "independent"}},
     "hconcat": [
      {
       "width": 323, "height": 238,
       "view": {"stroke": "#bbb", "strokeWidth": 1.5},
       "data": {"name": "pdf"},
       "mark": {"type": "line", "strokeWidth": 1, "interpolate": "monotone"},
       "encoding": {
        "x": {"field": "x", "type": "quantitative", "scale": {"domain": [0, 5], "nice": false, "zero": false},
              "axis": {"values": [0, 1, 2, 3, 4, 5], "title": "Random variable [A/⟨A⟩]", "labelFontSize": 18, "labelColor": "#8a8a8a", "labelPadding": 19, "titleFontSize": 23, "titleFontWeight": "bold", "titleColor": "black", "titlePadding": 13, "grid": true, "gridColor": "#e2e2e2", "gridDash": [3, 3], "domain": false, "ticks": true, "tickSize": -5, "tickColor": "#aaa", "tickWidth": 1}},
        "y": {"field": "y", "type": "quantitative", "scale": {"domain": [0, 3.5], "nice": false},
              "axis": {"values": [0, 1, 2, 3], "title": "Probability function", "labelFontSize": 18, "labelColor": "#8a8a8a", "labelPadding": 18, "titleFontSize": 25, "titleFontWeight": "bold", "titleColor": "black", "titlePadding": 23, "grid": true, "gridColor": "#e2e2e2", "gridDash": [3, 3], "domain": false, "ticks": true, "tickSize": -5, "tickColor": "#aaa", "tickWidth": 1}},
        "color": {"field": "phi", "type": "nominal",
                  "scale": {"domain": ["0.68", "0.75", "0.82", "0.89", "0.96"], "range": ["#000000", "#ff0000", "#229922", "#0000ff", "#9400d3"]},
                  "legend": {"orient": "none", "legendX": 219, "legendY": 16, "title": null, "symbolType": "stroke", "symbolSize": 420, "symbolStrokeWidth": 1, "labelFontSize": 15, "labelColor": "#222", "labelOffset": 9, "rowPadding": -4, "padding": 0, "labelExpr": "'φ = ' + datum.label"}}
       }
      },
      {
       "spacing": 31,
       "resolve": {"scale": {"color": "independent", "stroke": "independent"}, "legend": {"color": "independent", "stroke": "independent"}},
       "hconcat": [
        {
         "width": 30, "height": 238,
         "data": {"name": "dummy"},
         "mark": {"type": "point", "opacity": 0},
         "encoding": {"y": {"field": "t", "type": "quantitative", "axis": {"title": "c)", "labels": false, "ticks": false, "domain": false, "grid": false, "titleAngle": 0, "titleX": 0, "titleY": -2, "titleAlign": "left", "titleBaseline": "middle", "titleFontSize": 25, "titleFontWeight": "bold", "titleColor": "black"}}}
        },
        {
         "width": 315, "height": 238,
         "view": {"stroke": "#bbb", "strokeWidth": 1.5},
         "layer": [
          {"data": {"name": "href"}, "mark": {"type": "rule", "strokeDash": [5, 4], "color": "#333", "strokeWidth": 1},
           "encoding": {"y": {"field": "y", "type": "quantitative", "scale": {"domain": [0, 2.6], "nice": false}, "axis": {"values": [0, 0.6, 1.2, 1.8, 2.4], "format": ".1~f", "title": "Shannon entropy", "labelFontSize": 18, "labelColor": "#8a8a8a", "labelPadding": 18, "titleFontSize": 25, "titleFontWeight": "bold", "titleColor": "black", "titlePadding": 2, "grid": true, "gridColor": "#e2e2e2", "gridDash": [3, 3], "domain": false, "ticks": true, "tickSize": -5, "tickColor": "#aaa", "tickWidth": 1}}}},
          {"data": {"name": "ent"}, "mark": {"type": "point", "shape": "M-1,-1L1,1M-1,1L1,-1", "size": 120, "filled": false, "strokeWidth": 1, "opacity": 1},
           "encoding": {
            "x": {"field": "x", "type": "quantitative", "scale": {"domain": [0.6495, 1.0], "nice": false, "zero": false}, "axis": {"values": [0.68, 0.76, 0.84, 0.92, 1.0], "format": ".2f", "title": "Porosity", "labelFontSize": 18, "labelColor": "#8a8a8a", "labelPadding": 19, "titleFontSize": 23, "titleFontWeight": "bold", "titleColor": "black", "titlePadding": 13, "grid": true, "gridColor": "#e2e2e2", "gridDash": [3, 3], "domain": false, "ticks": true, "tickSize": -5, "tickColor": "#aaa", "tickWidth": 1}},
            "y": {"field": "y", "type": "quantitative", "scale": {"domain": [0, 2.6], "nice": false}, "axis": {"values": [0, 0.6, 1.2, 1.8, 2.4], "format": ".1~f", "title": "Shannon entropy", "labelFontSize": 18, "labelColor": "#8a8a8a", "labelPadding": 18, "titleFontSize": 25, "titleFontWeight": "bold", "titleColor": "black", "titlePadding": 2, "grid": true, "gridColor": "#e2e2e2", "gridDash": [3, 3], "domain": false, "ticks": true, "tickSize": -5, "tickColor": "#aaa", "tickWidth": 1}},
            "stroke": {"field": "phi", "type": "nominal",
                      "scale": {"domain": ["0.68", "0.75", "0.82", "0.89", "0.96"], "range": ["#000000", "#ff0000", "#229922", "#0000ff", "#9400d3"]},
                      "legend": {"orient": "none", "legendX": 22, "legendY": 146, "title": null, "symbolType": "M-1,-1L1,1M-1,1L1,-1", "symbolSize": 100, "symbolStrokeWidth": 1, "labelFontSize": 15, "labelColor": "#222", "labelOffset": 12, "rowPadding": -1, "padding": 0, "labelExpr": "'φ = ' + datum.label"}}
           }},
          {"data": {"name": "means"}, "mark": {"type": "line", "color": "#a0a0a0", "strokeWidth": 1},
           "encoding": {"x": {"field": "x", "type": "quantitative", "scale": {"domain": [0.6495, 1.0], "nice": false, "zero": false}}, "y": {"field": "y", "type": "quantitative", "scale": {"domain": [0, 2.6], "nice": false}}}},
          {"data": {"name": "means"}, "mark": {"type": "circle", "color": "#808080", "size": 28, "opacity": 1},
           "encoding": {"x": {"field": "x", "type": "quantitative"}, "y": {"field": "y", "type": "quantitative"}}},
          {"data": {"name": "hdots"}, "mark": {"type": "circle", "color": "black", "size": 32, "stroke": "white", "strokeWidth": 1.5, "opacity": 1},
           "encoding": {"x": {"field": "x", "type": "quantitative"}, "y": {"field": "y", "type": "quantitative"}}},
          {"data": {"name": "hlab"}, "mark": {"type": "text", "align": "left", "dx": 17, "fontSize": 11, "fontWeight": "bold", "color": "black", "clip": false},
           "encoding": {"x": {"field": "x", "type": "quantitative"}, "y": {"field": "y", "type": "quantitative"}, "text": {"field": "label"}}}
         ]
        }
       ]
      }
     ]
    }
   ]
  }
 ]
}
